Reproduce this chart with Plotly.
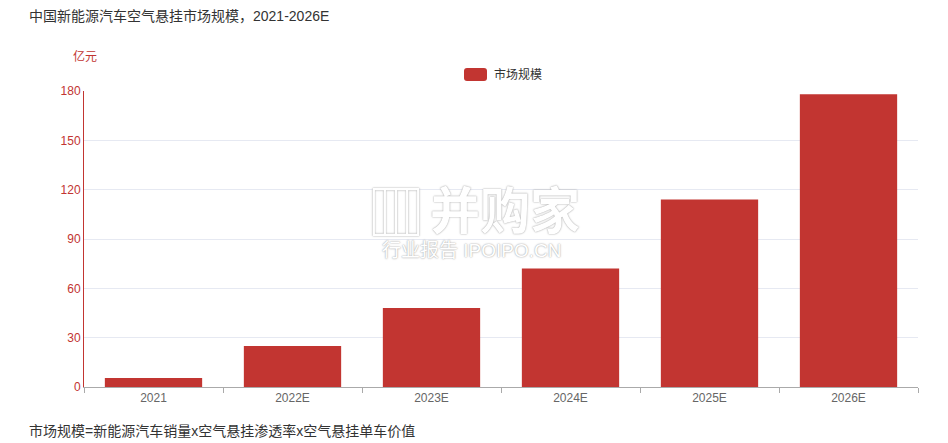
import plotly.graph_objects as go

categories = ["2021", "2022E", "2023E", "2024E", "2025E", "2026E"]
market_size = [5.5, 25, 48, 72, 114, 178]
y_ticks = [0, 30, 60, 90, 120, 150, 180]
series_name = "市场规模"

RED = "#c23531"
FONT = "Liberation Sans, Noto Sans CJK SC, sans-serif"

W, H = 948, 443
L, R, T, B = 84, 30, 91, 56
PW, PH = W - L - R, H - T - B


def px(x):
    return (x - L) / PW


def py(y):
    return (H - B - y) / PH


fig = go.Figure()
fig.add_trace(go.Bar(
    x=categories, y=market_size, name=series_name,
    marker=dict(color=RED, line=dict(width=0)),
    showlegend=False,
))

fig.update_layout(
    width=W, height=H,
    margin=dict(l=L, r=R, t=T, b=B, autoexpand=False),
    paper_bgcolor="white", plot_bgcolor="white",
    font=dict(family=FONT, size=12, color="#333"),
    bargap=0.3,
    showlegend=False,
    xaxis=dict(
        type="category", showgrid=False, showline=True, linecolor="#aaaaaa", linewidth=1,
        ticks="outside", tickson="boundaries", ticklen=5, tickcolor="#aaaaaa",
        tickfont=dict(size=12, color="#666"),
    ),
    yaxis=dict(
        range=[0, 180], tickvals=y_ticks, showgrid=True, gridcolor="#e6e9f2",
        showline=True, linecolor=RED, linewidth=1, zeroline=False,
        tickfont=dict(size=12, color=RED), ticks="",
    ),
)

# legend (rounded rect icon + label)
x0, x1, y0, y1 = px(464), px(487), py(81), py(68)
r = 3
rx, ry = r / PW, r / PH
path = (f"M {x0+rx},{y0} L {x1-rx},{y0} Q {x1},{y0} {x1},{y0+ry} L {x1},{y1-ry} "
        f"Q {x1},{y1} {x1-rx},{y1} L {x0+rx},{y1} Q {x0},{y1} {x0},{y1-ry} "
        f"L {x0},{y0+ry} Q {x0},{y0} {x0+rx},{y0} Z")
fig.add_shape(type="path", path=path, xref="paper", yref="paper",
              fillcolor=RED, line=dict(width=0))
fig.add_annotation(text=series_name, xref="paper", yref="paper", x=px(492), y=py(74.5),
                   xanchor="left", yanchor="middle", showarrow=False,
                   font=dict(size=12, color="#333"))

fig.add_annotation(text="中国新能源汽车空气悬挂市场规模，2021-2026E", xref="paper", yref="paper",
                   x=px(27), y=py(16), xanchor="left", yanchor="middle", showarrow=False,
                   font=dict(size=14, color="#333"))
fig.add_annotation(text="亿元", xref="paper", yref="paper", x=px(71), y=py(57),
                   xanchor="left", yanchor="middle", showarrow=False,
                   font=dict(size=12, color=RED))
fig.add_annotation(text="市场规模=新能源汽车销量x空气悬挂渗透率x空气悬挂单车价值", xref="paper", yref="paper",
                   x=px(27), y=py(431), xanchor="left", yanchor="middle", showarrow=False,
                   font=dict(size=14, color="#333"))
# watermark
WM_SHADOW = "0 0 2px #aaa, 0 0 1px #bbb"
fig.add_annotation(text="▥", xref="paper", yref="paper", x=px(396), y=py(213),
                   xanchor="center", yanchor="middle", showarrow=False,
                   font=dict(size=58, color="white", shadow=WM_SHADOW))
fig.add_annotation(text="并购家", xref="paper", yref="paper", x=px(505), y=py(212),
                   xanchor="center", yanchor="middle", showarrow=False,
                   font=dict(size=50, color="white", weight="bold", shadow=WM_SHADOW))
fig.add_annotation(text="行业报告 IPOIPO.CN", xref="paper", yref="paper", x=px(471), y=py(250),
                   xanchor="center", yanchor="middle", showarrow=False,
                   font=dict(size=19, color="white", shadow=WM_SHADOW))

fig.write_html("out.html", config={"displayModeBar": False},
               post_script="document.body.style.margin='0';document.body.style.overflow='hidden';")
